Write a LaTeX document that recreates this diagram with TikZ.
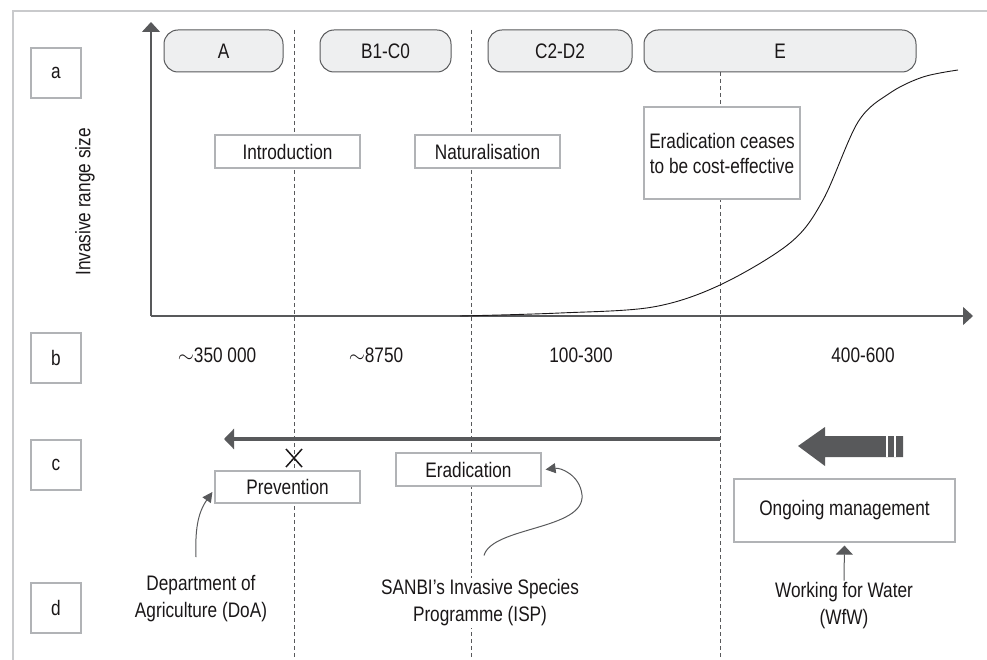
\documentclass[tikz,border=0pt]{standalone}
\usepackage{fontspec}
\setmainfont{Liberation Sans}[FakeStretch=0.82]
\usetikzlibrary{arrows.meta}
\definecolor{dgray}{HTML}{58595B}
\definecolor{lgray}{HTML}{B1B3B6}
\definecolor{fgray}{HTML}{C9CACC}
\definecolor{pillfill}{HTML}{EEEFF0}
\definecolor{ink}{HTML}{1A1718}
\tikzset{
  rowbox/.style={draw=lgray, line width=1.2pt, minimum size=50pt, inner sep=0pt},
  pillbox/.style={draw=dgray, fill=pillfill, line width=1pt, rounded corners=14pt,
    minimum height=42pt, inner sep=0pt},
  stagebox/.style={draw=lgray, fill=white, line width=1.2pt, inner sep=0pt},
  label/.style={fill=white, align=center, inner sep=2pt},
  divider/.style={dgray, line width=1pt, dash pattern=on 4pt off 3pt},
  axis/.style={dgray, line width=1.3pt, -{Triangle[length=10pt,width=18pt]}},
  curvy/.style={dgray, line width=1pt, -{Triangle[length=10pt,width=10pt]}}
}
\begin{document}
\begin{tikzpicture}[x=1pt, y=-1pt, font=\fontsize{21}{27}\selectfont, text=ink]
\useasboundingbox (0,0) rectangle (987,660);
% frame
\draw[fgray, line width=1.5pt] (987,11) -- (13,11) -- (13,660);
% row letters
\foreach \y/\t in {73/a,358/b,465/c,608/d}{
\node[rowbox] (row\t) at (56,\y) {\t};}
\node[rotate=90] (ylab) at (85,202) {Invasive range size};
% dividers
\foreach \x in {294,471,720}{
\draw[divider] (\x,30) -- (\x,660);}
% axes
\coordinate (orig) at (151,316);
\coordinate (ytop) at (151,22);
\coordinate (xend) at (973,316);
\draw[axis] (orig) -- (ytop);
\draw[axis] (orig) -- (xend);
\draw[ink, line width=0.9pt] plot[smooth, tension=0.55] coordinates
  {(460,316) (560,313) (653,307) (720,285) (790,243) (823,200) (858,122) (890,93) (923,77) (958,70)};
% stages
\foreach \x/\w/\t/\n in {223.5/119/A/stA, 385.5/131/B1-C0/stB, 560/144/C2-D2/stC, 780/272/E/stE}{
\node[pillbox, minimum width=\w pt] (\n) at (\x,51) {\t};}
\node[stagebox, minimum width=145pt, minimum height=33pt] (intro) at (287.5,151.5) {Introduction};
\node[stagebox, minimum width=145pt, minimum height=33pt] (natur) at (487.5,151.5) {Naturalisation};
\node[stagebox, minimum width=156pt, minimum height=92pt, align=center,
  font=\fontsize{21}{25}\selectfont] (cease) at (722,153) {Eradication ceases\\to be cost-effective};
% row b
\foreach \x/\t/\n in {217/{$\sim$350 000}/nA, 376/{$\sim$8750}/nB, 581/100-300/nC, 863/400-600/nE}{
\node (\n) at (\x,355) {\t};}
% row c
\coordinate (ceaseend) at (720,439);
\coordinate (prevend) at (224,439);
\draw[dgray, line width=3.7pt, -{Triangle[length=10pt,width=20pt]}] (ceaseend) -- (prevend);
\draw[ink, line width=1.5pt] (286,449) -- (302,467) (286,467) -- (302,449);
\node[stagebox, minimum width=145pt, minimum height=32pt] (prev) at (287.5,487) {Prevention};
\node[stagebox, minimum width=145pt, minimum height=33pt] (erad) at (468.5,469.5) {Eradication};
\fill[dgray] (798,446) -- (825,427) -- (825,436) -- (903,436) -- (903,457)
  -- (825,457) -- (825,466) -- cycle;
\draw[white, line width=1.2pt] (887,436) -- (887,457) (895,436) -- (895,457);
\node[stagebox, minimum width=221pt, minimum height=63pt] (ongo) at (844.5,510.5) {Ongoing management};
% row d
\node[label] (doa) at (201,598.5) {Department of\\Agriculture (DoA)};
\node[label] (isp) at (480,603) {SANBI’s Invasive Species\\Programme (ISP)};
\node[label] (wfw) at (844,606) {Working for Water\\(WfW)};
\draw[curvy] ([xshift=-5pt,yshift=16pt]doa.north) to[out=92,in=235] ([xshift=-2pt,yshift=-5pt]prev.west);
\coordinate (isphump) at (582,495);
\draw[curvy] ([xshift=4pt,yshift=22pt]isp.north) .. controls +(8,-29) and +(3,35) .. (isphump)
  .. controls +(-2,-20) and +(15,-2) .. ([xshift=4pt]erad.east);
\draw[dgray, line width=1pt, -{Triangle[length=9pt,width=17pt]}, shorten >=3pt] (wfw.north) -- (ongo.south);
\end{tikzpicture}
\end{document}
